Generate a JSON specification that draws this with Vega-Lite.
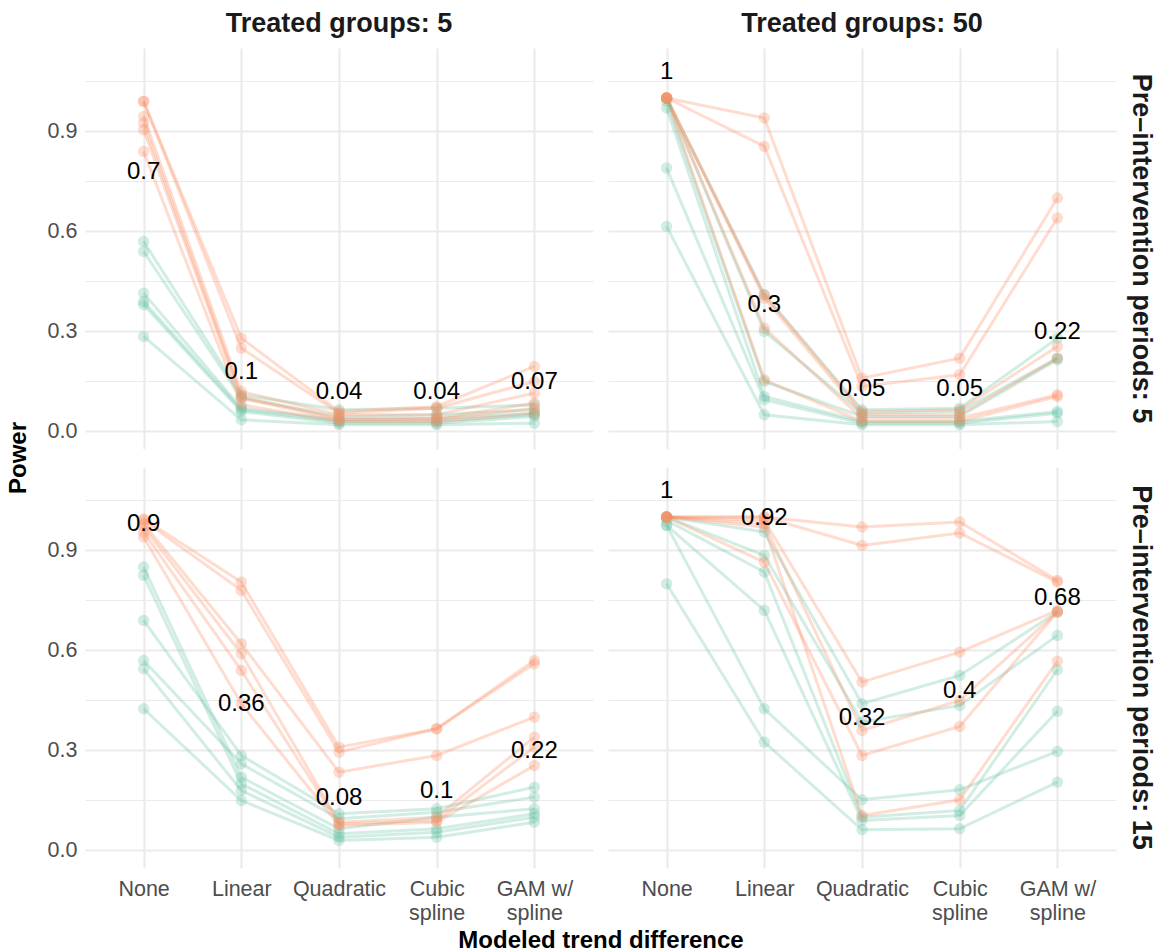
{
  "$schema": "https://vega.github.io/schema/vega-lite/v6.json",
  "background": "white",
  "padding": {"left": 6, "top": 10, "right": 5, "bottom": 0},
  "config": {
    "font": "Liberation Sans",
    "view": {"stroke": null},
    "axis": {"labelFont": "Liberation Sans", "titleFont": "Liberation Sans"},
    "header": {"labelFont": "Liberation Sans", "titleFont": "Liberation Sans"}
  },
  "data": {"values": [
    {"tg":"Treated groups: 5","pre":"Pre–intervention periods: 5","s":"g1","g":"a","m":"None","p":0.57},
    {"tg":"Treated groups: 5","pre":"Pre–intervention periods: 5","s":"g1","g":"a","m":"Linear","p":0.11},
    {"tg":"Treated groups: 5","pre":"Pre–intervention periods: 5","s":"g1","g":"a","m":"Quadratic","p":0.065},
    {"tg":"Treated groups: 5","pre":"Pre–intervention periods: 5","s":"g1","g":"a","m":"Cubic spline","p":0.07},
    {"tg":"Treated groups: 5","pre":"Pre–intervention periods: 5","s":"g1","g":"a","m":"GAM w/ spline","p":0.08},
    {"tg":"Treated groups: 5","pre":"Pre–intervention periods: 5","s":"g2","g":"a","m":"None","p":0.54},
    {"tg":"Treated groups: 5","pre":"Pre–intervention periods: 5","s":"g2","g":"a","m":"Linear","p":0.10},
    {"tg":"Treated groups: 5","pre":"Pre–intervention periods: 5","s":"g2","g":"a","m":"Quadratic","p":0.045},
    {"tg":"Treated groups: 5","pre":"Pre–intervention periods: 5","s":"g2","g":"a","m":"Cubic spline","p":0.05},
    {"tg":"Treated groups: 5","pre":"Pre–intervention periods: 5","s":"g2","g":"a","m":"GAM w/ spline","p":0.065},
    {"tg":"Treated groups: 5","pre":"Pre–intervention periods: 5","s":"g3","g":"a","m":"None","p":0.415},
    {"tg":"Treated groups: 5","pre":"Pre–intervention periods: 5","s":"g3","g":"a","m":"Linear","p":0.07},
    {"tg":"Treated groups: 5","pre":"Pre–intervention periods: 5","s":"g3","g":"a","m":"Quadratic","p":0.035},
    {"tg":"Treated groups: 5","pre":"Pre–intervention periods: 5","s":"g3","g":"a","m":"Cubic spline","p":0.04},
    {"tg":"Treated groups: 5","pre":"Pre–intervention periods: 5","s":"g3","g":"a","m":"GAM w/ spline","p":0.055},
    {"tg":"Treated groups: 5","pre":"Pre–intervention periods: 5","s":"g4","g":"a","m":"None","p":0.39},
    {"tg":"Treated groups: 5","pre":"Pre–intervention periods: 5","s":"g4","g":"a","m":"Linear","p":0.065},
    {"tg":"Treated groups: 5","pre":"Pre–intervention periods: 5","s":"g4","g":"a","m":"Quadratic","p":0.03},
    {"tg":"Treated groups: 5","pre":"Pre–intervention periods: 5","s":"g4","g":"a","m":"Cubic spline","p":0.03},
    {"tg":"Treated groups: 5","pre":"Pre–intervention periods: 5","s":"g4","g":"a","m":"GAM w/ spline","p":0.05},
    {"tg":"Treated groups: 5","pre":"Pre–intervention periods: 5","s":"g5","g":"a","m":"None","p":0.38},
    {"tg":"Treated groups: 5","pre":"Pre–intervention periods: 5","s":"g5","g":"a","m":"Linear","p":0.06},
    {"tg":"Treated groups: 5","pre":"Pre–intervention periods: 5","s":"g5","g":"a","m":"Quadratic","p":0.025},
    {"tg":"Treated groups: 5","pre":"Pre–intervention periods: 5","s":"g5","g":"a","m":"Cubic spline","p":0.025},
    {"tg":"Treated groups: 5","pre":"Pre–intervention periods: 5","s":"g5","g":"a","m":"GAM w/ spline","p":0.045},
    {"tg":"Treated groups: 5","pre":"Pre–intervention periods: 5","s":"g6","g":"a","m":"None","p":0.285},
    {"tg":"Treated groups: 5","pre":"Pre–intervention periods: 5","s":"g6","g":"a","m":"Linear","p":0.035},
    {"tg":"Treated groups: 5","pre":"Pre–intervention periods: 5","s":"g6","g":"a","m":"Quadratic","p":0.02},
    {"tg":"Treated groups: 5","pre":"Pre–intervention periods: 5","s":"g6","g":"a","m":"Cubic spline","p":0.02},
    {"tg":"Treated groups: 5","pre":"Pre–intervention periods: 5","s":"g6","g":"a","m":"GAM w/ spline","p":0.025},

    {"tg":"Treated groups: 50","pre":"Pre–intervention periods: 5","s":"g1","g":"a","m":"None","p":1.0},
    {"tg":"Treated groups: 50","pre":"Pre–intervention periods: 5","s":"g1","g":"a","m":"Linear","p":0.41},
    {"tg":"Treated groups: 50","pre":"Pre–intervention periods: 5","s":"g1","g":"a","m":"Quadratic","p":0.065},
    {"tg":"Treated groups: 50","pre":"Pre–intervention periods: 5","s":"g1","g":"a","m":"Cubic spline","p":0.07},
    {"tg":"Treated groups: 50","pre":"Pre–intervention periods: 5","s":"g1","g":"a","m":"GAM w/ spline","p":0.28},
    {"tg":"Treated groups: 50","pre":"Pre–intervention periods: 5","s":"g2","g":"a","m":"None","p":1.0},
    {"tg":"Treated groups: 50","pre":"Pre–intervention periods: 5","s":"g2","g":"a","m":"Linear","p":0.30},
    {"tg":"Treated groups: 50","pre":"Pre–intervention periods: 5","s":"g2","g":"a","m":"Quadratic","p":0.055},
    {"tg":"Treated groups: 50","pre":"Pre–intervention periods: 5","s":"g2","g":"a","m":"Cubic spline","p":0.06},
    {"tg":"Treated groups: 50","pre":"Pre–intervention periods: 5","s":"g2","g":"a","m":"GAM w/ spline","p":0.22},
    {"tg":"Treated groups: 50","pre":"Pre–intervention periods: 5","s":"g3","g":"a","m":"None","p":0.99},
    {"tg":"Treated groups: 50","pre":"Pre–intervention periods: 5","s":"g3","g":"a","m":"Linear","p":0.15},
    {"tg":"Treated groups: 50","pre":"Pre–intervention periods: 5","s":"g3","g":"a","m":"Quadratic","p":0.045},
    {"tg":"Treated groups: 50","pre":"Pre–intervention periods: 5","s":"g3","g":"a","m":"Cubic spline","p":0.045},
    {"tg":"Treated groups: 50","pre":"Pre–intervention periods: 5","s":"g3","g":"a","m":"GAM w/ spline","p":0.215},
    {"tg":"Treated groups: 50","pre":"Pre–intervention periods: 5","s":"g4","g":"a","m":"None","p":0.97},
    {"tg":"Treated groups: 50","pre":"Pre–intervention periods: 5","s":"g4","g":"a","m":"Linear","p":0.105},
    {"tg":"Treated groups: 50","pre":"Pre–intervention periods: 5","s":"g4","g":"a","m":"Quadratic","p":0.03},
    {"tg":"Treated groups: 50","pre":"Pre–intervention periods: 5","s":"g4","g":"a","m":"Cubic spline","p":0.03},
    {"tg":"Treated groups: 50","pre":"Pre–intervention periods: 5","s":"g4","g":"a","m":"GAM w/ spline","p":0.06},
    {"tg":"Treated groups: 50","pre":"Pre–intervention periods: 5","s":"g5","g":"a","m":"None","p":0.79},
    {"tg":"Treated groups: 50","pre":"Pre–intervention periods: 5","s":"g5","g":"a","m":"Linear","p":0.095},
    {"tg":"Treated groups: 50","pre":"Pre–intervention periods: 5","s":"g5","g":"a","m":"Quadratic","p":0.025},
    {"tg":"Treated groups: 50","pre":"Pre–intervention periods: 5","s":"g5","g":"a","m":"Cubic spline","p":0.025},
    {"tg":"Treated groups: 50","pre":"Pre–intervention periods: 5","s":"g5","g":"a","m":"GAM w/ spline","p":0.055},
    {"tg":"Treated groups: 50","pre":"Pre–intervention periods: 5","s":"g6","g":"a","m":"None","p":0.615},
    {"tg":"Treated groups: 50","pre":"Pre–intervention periods: 5","s":"g6","g":"a","m":"Linear","p":0.05},
    {"tg":"Treated groups: 50","pre":"Pre–intervention periods: 5","s":"g6","g":"a","m":"Quadratic","p":0.02},
    {"tg":"Treated groups: 50","pre":"Pre–intervention periods: 5","s":"g6","g":"a","m":"Cubic spline","p":0.02},
    {"tg":"Treated groups: 50","pre":"Pre–intervention periods: 5","s":"g6","g":"a","m":"GAM w/ spline","p":0.03},

    {"tg":"Treated groups: 5","pre":"Pre–intervention periods: 15","s":"g1","g":"a","m":"None","p":0.85},
    {"tg":"Treated groups: 5","pre":"Pre–intervention periods: 15","s":"g1","g":"a","m":"Linear","p":0.22},
    {"tg":"Treated groups: 5","pre":"Pre–intervention periods: 15","s":"g1","g":"a","m":"Quadratic","p":0.065},
    {"tg":"Treated groups: 5","pre":"Pre–intervention periods: 15","s":"g1","g":"a","m":"Cubic spline","p":0.1},
    {"tg":"Treated groups: 5","pre":"Pre–intervention periods: 15","s":"g1","g":"a","m":"GAM w/ spline","p":0.125},
    {"tg":"Treated groups: 5","pre":"Pre–intervention periods: 15","s":"g2","g":"a","m":"None","p":0.825},
    {"tg":"Treated groups: 5","pre":"Pre–intervention periods: 15","s":"g2","g":"a","m":"Linear","p":0.20},
    {"tg":"Treated groups: 5","pre":"Pre–intervention periods: 15","s":"g2","g":"a","m":"Quadratic","p":0.05},
    {"tg":"Treated groups: 5","pre":"Pre–intervention periods: 15","s":"g2","g":"a","m":"Cubic spline","p":0.065},
    {"tg":"Treated groups: 5","pre":"Pre–intervention periods: 15","s":"g2","g":"a","m":"GAM w/ spline","p":0.11},
    {"tg":"Treated groups: 5","pre":"Pre–intervention periods: 15","s":"g3","g":"a","m":"None","p":0.69},
    {"tg":"Treated groups: 5","pre":"Pre–intervention periods: 15","s":"g3","g":"a","m":"Linear","p":0.285},
    {"tg":"Treated groups: 5","pre":"Pre–intervention periods: 15","s":"g3","g":"a","m":"Quadratic","p":0.11},
    {"tg":"Treated groups: 5","pre":"Pre–intervention periods: 15","s":"g3","g":"a","m":"Cubic spline","p":0.125},
    {"tg":"Treated groups: 5","pre":"Pre–intervention periods: 15","s":"g3","g":"a","m":"GAM w/ spline","p":0.19},
    {"tg":"Treated groups: 5","pre":"Pre–intervention periods: 15","s":"g4","g":"a","m":"None","p":0.57},
    {"tg":"Treated groups: 5","pre":"Pre–intervention periods: 15","s":"g4","g":"a","m":"Linear","p":0.26},
    {"tg":"Treated groups: 5","pre":"Pre–intervention periods: 15","s":"g4","g":"a","m":"Quadratic","p":0.095},
    {"tg":"Treated groups: 5","pre":"Pre–intervention periods: 15","s":"g4","g":"a","m":"Cubic spline","p":0.115},
    {"tg":"Treated groups: 5","pre":"Pre–intervention periods: 15","s":"g4","g":"a","m":"GAM w/ spline","p":0.16},
    {"tg":"Treated groups: 5","pre":"Pre–intervention periods: 15","s":"g5","g":"a","m":"None","p":0.545},
    {"tg":"Treated groups: 5","pre":"Pre–intervention periods: 15","s":"g5","g":"a","m":"Linear","p":0.18},
    {"tg":"Treated groups: 5","pre":"Pre–intervention periods: 15","s":"g5","g":"a","m":"Quadratic","p":0.04},
    {"tg":"Treated groups: 5","pre":"Pre–intervention periods: 15","s":"g5","g":"a","m":"Cubic spline","p":0.055},
    {"tg":"Treated groups: 5","pre":"Pre–intervention periods: 15","s":"g5","g":"a","m":"GAM w/ spline","p":0.10},
    {"tg":"Treated groups: 5","pre":"Pre–intervention periods: 15","s":"g6","g":"a","m":"None","p":0.425},
    {"tg":"Treated groups: 5","pre":"Pre–intervention periods: 15","s":"g6","g":"a","m":"Linear","p":0.15},
    {"tg":"Treated groups: 5","pre":"Pre–intervention periods: 15","s":"g6","g":"a","m":"Quadratic","p":0.03},
    {"tg":"Treated groups: 5","pre":"Pre–intervention periods: 15","s":"g6","g":"a","m":"Cubic spline","p":0.04},
    {"tg":"Treated groups: 5","pre":"Pre–intervention periods: 15","s":"g6","g":"a","m":"GAM w/ spline","p":0.085},

    {"tg":"Treated groups: 50","pre":"Pre–intervention periods: 15","s":"g1","g":"a","m":"None","p":1.0},
    {"tg":"Treated groups: 50","pre":"Pre–intervention periods: 15","s":"g1","g":"a","m":"Linear","p":0.955},
    {"tg":"Treated groups: 50","pre":"Pre–intervention periods: 15","s":"g1","g":"a","m":"Quadratic","p":0.44},
    {"tg":"Treated groups: 50","pre":"Pre–intervention periods: 15","s":"g1","g":"a","m":"Cubic spline","p":0.525},
    {"tg":"Treated groups: 50","pre":"Pre–intervention periods: 15","s":"g1","g":"a","m":"GAM w/ spline","p":0.715},
    {"tg":"Treated groups: 50","pre":"Pre–intervention periods: 15","s":"g2","g":"a","m":"None","p":1.0},
    {"tg":"Treated groups: 50","pre":"Pre–intervention periods: 15","s":"g2","g":"a","m":"Linear","p":0.885},
    {"tg":"Treated groups: 50","pre":"Pre–intervention periods: 15","s":"g2","g":"a","m":"Quadratic","p":0.385},
    {"tg":"Treated groups: 50","pre":"Pre–intervention periods: 15","s":"g2","g":"a","m":"Cubic spline","p":0.435},
    {"tg":"Treated groups: 50","pre":"Pre–intervention periods: 15","s":"g2","g":"a","m":"GAM w/ spline","p":0.645},
    {"tg":"Treated groups: 50","pre":"Pre–intervention periods: 15","s":"g3","g":"a","m":"None","p":0.99},
    {"tg":"Treated groups: 50","pre":"Pre–intervention periods: 15","s":"g3","g":"a","m":"Linear","p":0.835},
    {"tg":"Treated groups: 50","pre":"Pre–intervention periods: 15","s":"g3","g":"a","m":"Quadratic","p":0.10},
    {"tg":"Treated groups: 50","pre":"Pre–intervention periods: 15","s":"g3","g":"a","m":"Cubic spline","p":0.12},
    {"tg":"Treated groups: 50","pre":"Pre–intervention periods: 15","s":"g3","g":"a","m":"GAM w/ spline","p":0.542},
    {"tg":"Treated groups: 50","pre":"Pre–intervention periods: 15","s":"g4","g":"a","m":"None","p":0.975},
    {"tg":"Treated groups: 50","pre":"Pre–intervention periods: 15","s":"g4","g":"a","m":"Linear","p":0.72},
    {"tg":"Treated groups: 50","pre":"Pre–intervention periods: 15","s":"g4","g":"a","m":"Quadratic","p":0.09},
    {"tg":"Treated groups: 50","pre":"Pre–intervention periods: 15","s":"g4","g":"a","m":"Cubic spline","p":0.105},
    {"tg":"Treated groups: 50","pre":"Pre–intervention periods: 15","s":"g4","g":"a","m":"GAM w/ spline","p":0.418},
    {"tg":"Treated groups: 50","pre":"Pre–intervention periods: 15","s":"g5","g":"a","m":"None","p":0.975},
    {"tg":"Treated groups: 50","pre":"Pre–intervention periods: 15","s":"g5","g":"a","m":"Linear","p":0.425},
    {"tg":"Treated groups: 50","pre":"Pre–intervention periods: 15","s":"g5","g":"a","m":"Quadratic","p":0.152},
    {"tg":"Treated groups: 50","pre":"Pre–intervention periods: 15","s":"g5","g":"a","m":"Cubic spline","p":0.182},
    {"tg":"Treated groups: 50","pre":"Pre–intervention periods: 15","s":"g5","g":"a","m":"GAM w/ spline","p":0.297},
    {"tg":"Treated groups: 50","pre":"Pre–intervention periods: 15","s":"g6","g":"a","m":"None","p":0.80},
    {"tg":"Treated groups: 50","pre":"Pre–intervention periods: 15","s":"g6","g":"a","m":"Linear","p":0.325},
    {"tg":"Treated groups: 50","pre":"Pre–intervention periods: 15","s":"g6","g":"a","m":"Quadratic","p":0.062},
    {"tg":"Treated groups: 50","pre":"Pre–intervention periods: 15","s":"g6","g":"a","m":"Cubic spline","p":0.065},
    {"tg":"Treated groups: 50","pre":"Pre–intervention periods: 15","s":"g6","g":"a","m":"GAM w/ spline","p":0.205},

    {"tg":"Treated groups: 5","pre":"Pre–intervention periods: 5","s":"o1","g":"b","m":"None","p":0.99},
    {"tg":"Treated groups: 5","pre":"Pre–intervention periods: 5","s":"o1","g":"b","m":"Linear","p":0.28},
    {"tg":"Treated groups: 5","pre":"Pre–intervention periods: 5","s":"o1","g":"b","m":"Quadratic","p":0.06},
    {"tg":"Treated groups: 5","pre":"Pre–intervention periods: 5","s":"o1","g":"b","m":"Cubic spline","p":0.075},
    {"tg":"Treated groups: 5","pre":"Pre–intervention periods: 5","s":"o1","g":"b","m":"GAM w/ spline","p":0.195},
    {"tg":"Treated groups: 5","pre":"Pre–intervention periods: 5","s":"o2","g":"b","m":"None","p":0.99},
    {"tg":"Treated groups: 5","pre":"Pre–intervention periods: 5","s":"o2","g":"b","m":"Linear","p":0.25},
    {"tg":"Treated groups: 5","pre":"Pre–intervention periods: 5","s":"o2","g":"b","m":"Quadratic","p":0.055},
    {"tg":"Treated groups: 5","pre":"Pre–intervention periods: 5","s":"o2","g":"b","m":"Cubic spline","p":0.07},
    {"tg":"Treated groups: 5","pre":"Pre–intervention periods: 5","s":"o2","g":"b","m":"GAM w/ spline","p":0.15},
    {"tg":"Treated groups: 5","pre":"Pre–intervention periods: 5","s":"o3","g":"b","m":"None","p":0.945},
    {"tg":"Treated groups: 5","pre":"Pre–intervention periods: 5","s":"o3","g":"b","m":"Linear","p":0.12},
    {"tg":"Treated groups: 5","pre":"Pre–intervention periods: 5","s":"o3","g":"b","m":"Quadratic","p":0.05},
    {"tg":"Treated groups: 5","pre":"Pre–intervention periods: 5","s":"o3","g":"b","m":"Cubic spline","p":0.05},
    {"tg":"Treated groups: 5","pre":"Pre–intervention periods: 5","s":"o3","g":"b","m":"GAM w/ spline","p":0.115},
    {"tg":"Treated groups: 5","pre":"Pre–intervention periods: 5","s":"o4","g":"b","m":"None","p":0.925},
    {"tg":"Treated groups: 5","pre":"Pre–intervention periods: 5","s":"o4","g":"b","m":"Linear","p":0.105},
    {"tg":"Treated groups: 5","pre":"Pre–intervention periods: 5","s":"o4","g":"b","m":"Quadratic","p":0.04},
    {"tg":"Treated groups: 5","pre":"Pre–intervention periods: 5","s":"o4","g":"b","m":"Cubic spline","p":0.04},
    {"tg":"Treated groups: 5","pre":"Pre–intervention periods: 5","s":"o4","g":"b","m":"GAM w/ spline","p":0.085},
    {"tg":"Treated groups: 5","pre":"Pre–intervention periods: 5","s":"o5","g":"b","m":"None","p":0.905},
    {"tg":"Treated groups: 5","pre":"Pre–intervention periods: 5","s":"o5","g":"b","m":"Linear","p":0.10},
    {"tg":"Treated groups: 5","pre":"Pre–intervention periods: 5","s":"o5","g":"b","m":"Quadratic","p":0.035},
    {"tg":"Treated groups: 5","pre":"Pre–intervention periods: 5","s":"o5","g":"b","m":"Cubic spline","p":0.035},
    {"tg":"Treated groups: 5","pre":"Pre–intervention periods: 5","s":"o5","g":"b","m":"GAM w/ spline","p":0.07},
    {"tg":"Treated groups: 5","pre":"Pre–intervention periods: 5","s":"o6","g":"b","m":"None","p":0.84},
    {"tg":"Treated groups: 5","pre":"Pre–intervention periods: 5","s":"o6","g":"b","m":"Linear","p":0.08},
    {"tg":"Treated groups: 5","pre":"Pre–intervention periods: 5","s":"o6","g":"b","m":"Quadratic","p":0.03},
    {"tg":"Treated groups: 5","pre":"Pre–intervention periods: 5","s":"o6","g":"b","m":"Cubic spline","p":0.03},
    {"tg":"Treated groups: 5","pre":"Pre–intervention periods: 5","s":"o6","g":"b","m":"GAM w/ spline","p":0.055},

    {"tg":"Treated groups: 50","pre":"Pre–intervention periods: 5","s":"o1","g":"b","m":"None","p":1.0},
    {"tg":"Treated groups: 50","pre":"Pre–intervention periods: 5","s":"o1","g":"b","m":"Linear","p":0.94},
    {"tg":"Treated groups: 50","pre":"Pre–intervention periods: 5","s":"o1","g":"b","m":"Quadratic","p":0.16},
    {"tg":"Treated groups: 50","pre":"Pre–intervention periods: 5","s":"o1","g":"b","m":"Cubic spline","p":0.22},
    {"tg":"Treated groups: 50","pre":"Pre–intervention periods: 5","s":"o1","g":"b","m":"GAM w/ spline","p":0.70},
    {"tg":"Treated groups: 50","pre":"Pre–intervention periods: 5","s":"o2","g":"b","m":"None","p":1.0},
    {"tg":"Treated groups: 50","pre":"Pre–intervention periods: 5","s":"o2","g":"b","m":"Linear","p":0.855},
    {"tg":"Treated groups: 50","pre":"Pre–intervention periods: 5","s":"o2","g":"b","m":"Quadratic","p":0.135},
    {"tg":"Treated groups: 50","pre":"Pre–intervention periods: 5","s":"o2","g":"b","m":"Cubic spline","p":0.17},
    {"tg":"Treated groups: 50","pre":"Pre–intervention periods: 5","s":"o2","g":"b","m":"GAM w/ spline","p":0.64},
    {"tg":"Treated groups: 50","pre":"Pre–intervention periods: 5","s":"o3","g":"b","m":"None","p":1.0},
    {"tg":"Treated groups: 50","pre":"Pre–intervention periods: 5","s":"o3","g":"b","m":"Linear","p":0.41},
    {"tg":"Treated groups: 50","pre":"Pre–intervention periods: 5","s":"o3","g":"b","m":"Quadratic","p":0.06},
    {"tg":"Treated groups: 50","pre":"Pre–intervention periods: 5","s":"o3","g":"b","m":"Cubic spline","p":0.065},
    {"tg":"Treated groups: 50","pre":"Pre–intervention periods: 5","s":"o3","g":"b","m":"GAM w/ spline","p":0.255},
    {"tg":"Treated groups: 50","pre":"Pre–intervention periods: 5","s":"o4","g":"b","m":"None","p":1.0},
    {"tg":"Treated groups: 50","pre":"Pre–intervention periods: 5","s":"o4","g":"b","m":"Linear","p":0.40},
    {"tg":"Treated groups: 50","pre":"Pre–intervention periods: 5","s":"o4","g":"b","m":"Quadratic","p":0.05},
    {"tg":"Treated groups: 50","pre":"Pre–intervention periods: 5","s":"o4","g":"b","m":"Cubic spline","p":0.05},
    {"tg":"Treated groups: 50","pre":"Pre–intervention periods: 5","s":"o4","g":"b","m":"GAM w/ spline","p":0.22},
    {"tg":"Treated groups: 50","pre":"Pre–intervention periods: 5","s":"o5","g":"b","m":"None","p":1.0},
    {"tg":"Treated groups: 50","pre":"Pre–intervention periods: 5","s":"o5","g":"b","m":"Linear","p":0.31},
    {"tg":"Treated groups: 50","pre":"Pre–intervention periods: 5","s":"o5","g":"b","m":"Quadratic","p":0.04},
    {"tg":"Treated groups: 50","pre":"Pre–intervention periods: 5","s":"o5","g":"b","m":"Cubic spline","p":0.04},
    {"tg":"Treated groups: 50","pre":"Pre–intervention periods: 5","s":"o5","g":"b","m":"GAM w/ spline","p":0.11},
    {"tg":"Treated groups: 50","pre":"Pre–intervention periods: 5","s":"o6","g":"b","m":"None","p":1.0},
    {"tg":"Treated groups: 50","pre":"Pre–intervention periods: 5","s":"o6","g":"b","m":"Linear","p":0.155},
    {"tg":"Treated groups: 50","pre":"Pre–intervention periods: 5","s":"o6","g":"b","m":"Quadratic","p":0.03},
    {"tg":"Treated groups: 50","pre":"Pre–intervention periods: 5","s":"o6","g":"b","m":"Cubic spline","p":0.03},
    {"tg":"Treated groups: 50","pre":"Pre–intervention periods: 5","s":"o6","g":"b","m":"GAM w/ spline","p":0.105},

    {"tg":"Treated groups: 5","pre":"Pre–intervention periods: 15","s":"o1","g":"b","m":"None","p":0.995},
    {"tg":"Treated groups: 5","pre":"Pre–intervention periods: 15","s":"o1","g":"b","m":"Linear","p":0.805},
    {"tg":"Treated groups: 5","pre":"Pre–intervention periods: 15","s":"o1","g":"b","m":"Quadratic","p":0.31},
    {"tg":"Treated groups: 5","pre":"Pre–intervention periods: 15","s":"o1","g":"b","m":"Cubic spline","p":0.365},
    {"tg":"Treated groups: 5","pre":"Pre–intervention periods: 15","s":"o1","g":"b","m":"GAM w/ spline","p":0.57},
    {"tg":"Treated groups: 5","pre":"Pre–intervention periods: 15","s":"o2","g":"b","m":"None","p":0.99},
    {"tg":"Treated groups: 5","pre":"Pre–intervention periods: 15","s":"o2","g":"b","m":"Linear","p":0.78},
    {"tg":"Treated groups: 5","pre":"Pre–intervention periods: 15","s":"o2","g":"b","m":"Quadratic","p":0.295},
    {"tg":"Treated groups: 5","pre":"Pre–intervention periods: 15","s":"o2","g":"b","m":"Cubic spline","p":0.365},
    {"tg":"Treated groups: 5","pre":"Pre–intervention periods: 15","s":"o2","g":"b","m":"GAM w/ spline","p":0.56},
    {"tg":"Treated groups: 5","pre":"Pre–intervention periods: 15","s":"o3","g":"b","m":"None","p":0.98},
    {"tg":"Treated groups: 5","pre":"Pre–intervention periods: 15","s":"o3","g":"b","m":"Linear","p":0.62},
    {"tg":"Treated groups: 5","pre":"Pre–intervention periods: 15","s":"o3","g":"b","m":"Quadratic","p":0.235},
    {"tg":"Treated groups: 5","pre":"Pre–intervention periods: 15","s":"o3","g":"b","m":"Cubic spline","p":0.285},
    {"tg":"Treated groups: 5","pre":"Pre–intervention periods: 15","s":"o3","g":"b","m":"GAM w/ spline","p":0.40},
    {"tg":"Treated groups: 5","pre":"Pre–intervention periods: 15","s":"o4","g":"b","m":"None","p":0.97},
    {"tg":"Treated groups: 5","pre":"Pre–intervention periods: 15","s":"o4","g":"b","m":"Linear","p":0.59},
    {"tg":"Treated groups: 5","pre":"Pre–intervention periods: 15","s":"o4","g":"b","m":"Quadratic","p":0.085},
    {"tg":"Treated groups: 5","pre":"Pre–intervention periods: 15","s":"o4","g":"b","m":"Cubic spline","p":0.10},
    {"tg":"Treated groups: 5","pre":"Pre–intervention periods: 15","s":"o4","g":"b","m":"GAM w/ spline","p":0.34},
    {"tg":"Treated groups: 5","pre":"Pre–intervention periods: 15","s":"o5","g":"b","m":"None","p":0.955},
    {"tg":"Treated groups: 5","pre":"Pre–intervention periods: 15","s":"o5","g":"b","m":"Linear","p":0.54},
    {"tg":"Treated groups: 5","pre":"Pre–intervention periods: 15","s":"o5","g":"b","m":"Quadratic","p":0.08},
    {"tg":"Treated groups: 5","pre":"Pre–intervention periods: 15","s":"o5","g":"b","m":"Cubic spline","p":0.09},
    {"tg":"Treated groups: 5","pre":"Pre–intervention periods: 15","s":"o5","g":"b","m":"GAM w/ spline","p":0.31},
    {"tg":"Treated groups: 5","pre":"Pre–intervention periods: 15","s":"o6","g":"b","m":"None","p":0.94},
    {"tg":"Treated groups: 5","pre":"Pre–intervention periods: 15","s":"o6","g":"b","m":"Linear","p":0.44},
    {"tg":"Treated groups: 5","pre":"Pre–intervention periods: 15","s":"o6","g":"b","m":"Quadratic","p":0.075},
    {"tg":"Treated groups: 5","pre":"Pre–intervention periods: 15","s":"o6","g":"b","m":"Cubic spline","p":0.085},
    {"tg":"Treated groups: 5","pre":"Pre–intervention periods: 15","s":"o6","g":"b","m":"GAM w/ spline","p":0.255},

    {"tg":"Treated groups: 50","pre":"Pre–intervention periods: 15","s":"o1","g":"b","m":"None","p":1.0},
    {"tg":"Treated groups: 50","pre":"Pre–intervention periods: 15","s":"o1","g":"b","m":"Linear","p":1.0},
    {"tg":"Treated groups: 50","pre":"Pre–intervention periods: 15","s":"o1","g":"b","m":"Quadratic","p":0.97},
    {"tg":"Treated groups: 50","pre":"Pre–intervention periods: 15","s":"o1","g":"b","m":"Cubic spline","p":0.985},
    {"tg":"Treated groups: 50","pre":"Pre–intervention periods: 15","s":"o1","g":"b","m":"GAM w/ spline","p":0.81},
    {"tg":"Treated groups: 50","pre":"Pre–intervention periods: 15","s":"o2","g":"b","m":"None","p":1.0},
    {"tg":"Treated groups: 50","pre":"Pre–intervention periods: 15","s":"o2","g":"b","m":"Linear","p":1.0},
    {"tg":"Treated groups: 50","pre":"Pre–intervention periods: 15","s":"o2","g":"b","m":"Quadratic","p":0.915},
    {"tg":"Treated groups: 50","pre":"Pre–intervention periods: 15","s":"o2","g":"b","m":"Cubic spline","p":0.952},
    {"tg":"Treated groups: 50","pre":"Pre–intervention periods: 15","s":"o2","g":"b","m":"GAM w/ spline","p":0.805},
    {"tg":"Treated groups: 50","pre":"Pre–intervention periods: 15","s":"o3","g":"b","m":"None","p":1.0},
    {"tg":"Treated groups: 50","pre":"Pre–intervention periods: 15","s":"o3","g":"b","m":"Linear","p":0.99},
    {"tg":"Treated groups: 50","pre":"Pre–intervention periods: 15","s":"o3","g":"b","m":"Quadratic","p":0.505},
    {"tg":"Treated groups: 50","pre":"Pre–intervention periods: 15","s":"o3","g":"b","m":"Cubic spline","p":0.595},
    {"tg":"Treated groups: 50","pre":"Pre–intervention periods: 15","s":"o3","g":"b","m":"GAM w/ spline","p":0.72},
    {"tg":"Treated groups: 50","pre":"Pre–intervention periods: 15","s":"o4","g":"b","m":"None","p":1.0},
    {"tg":"Treated groups: 50","pre":"Pre–intervention periods: 15","s":"o4","g":"b","m":"Linear","p":0.98},
    {"tg":"Treated groups: 50","pre":"Pre–intervention periods: 15","s":"o4","g":"b","m":"Quadratic","p":0.36},
    {"tg":"Treated groups: 50","pre":"Pre–intervention periods: 15","s":"o4","g":"b","m":"Cubic spline","p":0.45},
    {"tg":"Treated groups: 50","pre":"Pre–intervention periods: 15","s":"o4","g":"b","m":"GAM w/ spline","p":0.715},
    {"tg":"Treated groups: 50","pre":"Pre–intervention periods: 15","s":"o5","g":"b","m":"None","p":1.0},
    {"tg":"Treated groups: 50","pre":"Pre–intervention periods: 15","s":"o5","g":"b","m":"Linear","p":0.865},
    {"tg":"Treated groups: 50","pre":"Pre–intervention periods: 15","s":"o5","g":"b","m":"Quadratic","p":0.285},
    {"tg":"Treated groups: 50","pre":"Pre–intervention periods: 15","s":"o5","g":"b","m":"Cubic spline","p":0.372},
    {"tg":"Treated groups: 50","pre":"Pre–intervention periods: 15","s":"o5","g":"b","m":"GAM w/ spline","p":0.715},
    {"tg":"Treated groups: 50","pre":"Pre–intervention periods: 15","s":"o6","g":"b","m":"None","p":1.0},
    {"tg":"Treated groups: 50","pre":"Pre–intervention periods: 15","s":"o6","g":"b","m":"Linear","p":0.97},
    {"tg":"Treated groups: 50","pre":"Pre–intervention periods: 15","s":"o6","g":"b","m":"Quadratic","p":0.105},
    {"tg":"Treated groups: 50","pre":"Pre–intervention periods: 15","s":"o6","g":"b","m":"Cubic spline","p":0.152},
    {"tg":"Treated groups: 50","pre":"Pre–intervention periods: 15","s":"o6","g":"b","m":"GAM w/ spline","p":0.568},

    {"tg":"Treated groups: 5","pre":"Pre–intervention periods: 5","m":"None","med":0.7,"lab":"0.7"},
    {"tg":"Treated groups: 5","pre":"Pre–intervention periods: 5","m":"Linear","med":0.1,"lab":"0.1"},
    {"tg":"Treated groups: 5","pre":"Pre–intervention periods: 5","m":"Quadratic","med":0.04,"lab":"0.04"},
    {"tg":"Treated groups: 5","pre":"Pre–intervention periods: 5","m":"Cubic spline","med":0.04,"lab":"0.04"},
    {"tg":"Treated groups: 5","pre":"Pre–intervention periods: 5","m":"GAM w/ spline","med":0.07,"lab":"0.07"},
    {"tg":"Treated groups: 50","pre":"Pre–intervention periods: 5","m":"None","med":1.0,"lab":"1"},
    {"tg":"Treated groups: 50","pre":"Pre–intervention periods: 5","m":"Linear","med":0.3,"lab":"0.3"},
    {"tg":"Treated groups: 50","pre":"Pre–intervention periods: 5","m":"Quadratic","med":0.05,"lab":"0.05"},
    {"tg":"Treated groups: 50","pre":"Pre–intervention periods: 5","m":"Cubic spline","med":0.05,"lab":"0.05"},
    {"tg":"Treated groups: 50","pre":"Pre–intervention periods: 5","m":"GAM w/ spline","med":0.22,"lab":"0.22"},
    {"tg":"Treated groups: 5","pre":"Pre–intervention periods: 15","m":"None","med":0.9,"lab":"0.9"},
    {"tg":"Treated groups: 5","pre":"Pre–intervention periods: 15","m":"Linear","med":0.36,"lab":"0.36"},
    {"tg":"Treated groups: 5","pre":"Pre–intervention periods: 15","m":"Quadratic","med":0.08,"lab":"0.08"},
    {"tg":"Treated groups: 5","pre":"Pre–intervention periods: 15","m":"Cubic spline","med":0.1,"lab":"0.1"},
    {"tg":"Treated groups: 5","pre":"Pre–intervention periods: 15","m":"GAM w/ spline","med":0.22,"lab":"0.22"},
    {"tg":"Treated groups: 50","pre":"Pre–intervention periods: 15","m":"None","med":1.0,"lab":"1"},
    {"tg":"Treated groups: 50","pre":"Pre–intervention periods: 15","m":"Linear","med":0.92,"lab":"0.92"},
    {"tg":"Treated groups: 50","pre":"Pre–intervention periods: 15","m":"Quadratic","med":0.32,"lab":"0.32"},
    {"tg":"Treated groups: 50","pre":"Pre–intervention periods: 15","m":"Cubic spline","med":0.4,"lab":"0.4"},
    {"tg":"Treated groups: 50","pre":"Pre–intervention periods: 15","m":"GAM w/ spline","med":0.68,"lab":"0.68"}
  ]},
  "spacing": {"row": 18, "column": 15},
  "facet": {
    "column": {
      "field": "tg", "type": "nominal",
      "sort": ["Treated groups: 5", "Treated groups: 50"],
      "title": "Modeled trend difference",
      "header": {
        "labelOrient": "top", "titleOrient": "bottom",
        "labelFontSize": 27, "labelFontWeight": "bold", "labelColor": "#1A1A1A", "labelPadding": 10,
        "titleFontSize": 24, "titleFontWeight": "bold", "titleColor": "#000000", "titlePadding": -5
      }
    },
    "row": {
      "field": "pre", "type": "nominal",
      "sort": ["Pre–intervention periods: 5", "Pre–intervention periods: 15"],
      "title": "Power",
      "header": {
        "labelOrient": "right", "titleOrient": "left", "labelAngle": 90,
        "labelFontSize": 27, "labelFontWeight": "bold", "labelColor": "#1A1A1A", "labelPadding": 11,
        "titleFontSize": 24, "titleFontWeight": "bold", "titleColor": "#000000", "titlePadding": 6
      }
    }
  },
  "spec": {
    "width": 508,
    "height": 401,
    "encoding": {
      "x": {
        "field": "m", "type": "ordinal",
        "sort": ["None", "Linear", "Quadratic", "Cubic spline", "GAM w/ spline"],
        "scale": {"type": "point", "padding": 0.6},
        "axis": {
          "title": null, "grid": true, "gridColor": "#EBEBEB", "gridWidth": 2.2,
          "domain": false, "ticks": false, "tickSize": 0,
          "labelFontSize": 21.5, "labelColor": "#4D4D4D", "labelPadding": 10, "labelAngle": 0,
          "labelLineHeight": 24, "labelOverlap": false, "labelBound": false,
          "labelExpr": "datum.label == 'Cubic spline' ? ['Cubic', 'spline'] : datum.label == 'GAM w/ spline' ? ['GAM w/', 'spline'] : datum.label"
        }
      }
    },
    "layer": [
      {
        "transform": [{"filter": "isValid(datum.p)"}],
        "mark": {"type": "line", "strokeWidth": 3, "opacity": 0.3},
        "encoding": {
          "y": {
            "field": "p", "type": "quantitative",
            "scale": {"domain": [-0.0525, 1.15], "nice": false, "zero": false},
            "axis": {
              "title": null,
              "values": [0, 0.15, 0.3, 0.45, 0.6, 0.75, 0.9, 1.05],
              "labelExpr": "round(datum.value*100) % 30 === 0 ? format(datum.value, '.1f') : ''",
              "gridColor": "#EBEBEB",
              "gridWidth": {"condition": {"test": "round(datum.value*100) % 30 === 0", "value": 2.2}, "value": 1.1},
              "domain": false, "ticks": false, "tickSize": 0,
              "labelFontSize": 21.5, "labelColor": "#4D4D4D", "labelPadding": 8, "labelOverlap": false
            }
          },
          "color": {"field": "g", "type": "nominal", "scale": {"domain": ["a", "b"], "range": ["#66C2A5", "#FC8D62"]}, "legend": null},
          "detail": {"field": "s"}
        }
      },
      {
        "transform": [{"filter": "isValid(datum.p)"}],
        "mark": {"type": "point", "filled": true, "size": 130, "opacity": 0.3},
        "encoding": {
          "y": {"field": "p", "type": "quantitative"},
          "color": {"field": "g", "type": "nominal", "legend": null}
        }
      },
      {
        "transform": [{"filter": "isValid(datum.lab)"}],
        "mark": {"type": "text", "fontSize": 24, "color": "#000000", "dy": -26, "baseline": "middle", "align": "center"},
        "encoding": {
          "y": {"field": "med", "type": "quantitative"},
          "text": {"field": "lab"}
        }
      }
    ]
  }
}
